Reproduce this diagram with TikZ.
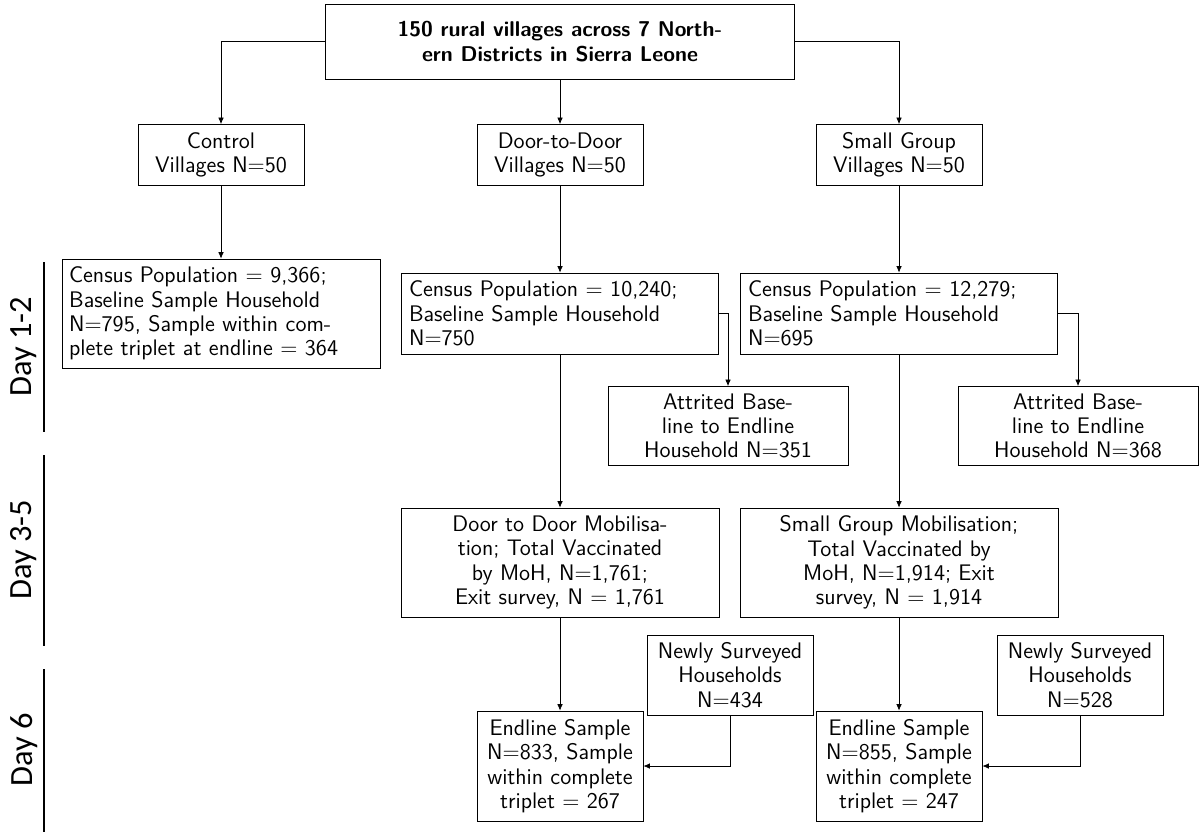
\documentclass[tikz,border=0pt]{standalone}
\usepackage{fontspec}
\newfontfamily\dayfont{Carlito}
\usetikzlibrary{arrows.meta}
\begin{document}
\begin{tikzpicture}[x=0.53333pt,y=-0.53333pt,
  box/.style={draw, rectangle, font=\sffamily\fontsize{12}{13}\selectfont, align=center, inner sep=2pt},
  wpx/.style={minimum width=#1*0.53333pt},
  hpx/.style={minimum height=#1*0.53333pt},
  arr/.style={-{Latex[length=3.5pt,width=3pt]}},
  dayline/.style={line width=1pt},
  daylabel/.style={font=\dayfont\LARGE, rotate=90}]
\useasboundingbox (0,0) rectangle (1204,832);

% top
\node[box, wpx=469, hpx=75, font=\sffamily\bfseries\fontsize{11.4}{13}\selectfont] (top) at (560,41.5)
  {150 rural villages across 7 North-\\ern Districts in Sierra Leone};

% level 2
\node[box, wpx=166, hpx=61] (ctrl) at (221,155) {Control\\Villages N=50};
\node[box, wpx=166, hpx=61] (door) at (560,155) {Door-to-Door\\Villages N=50};
\node[box, wpx=166, hpx=61] (small) at (899,155) {Small Group\\Villages N=50};

% census
\node[box, align=left, text width=162pt, inner xsep=3.8pt, hpx=109] (cc) at (221,313.5)
  {Census Population = 9,366;\\Baseline Sample Household\\\makebox[147pt][s]{N=795, Sample within com-}\\plete triplet at endline = 364};
\node[box, align=left, text width=161pt, inner xsep=4pt, hpx=81] (dc) at (560,313.5)
  {Census Population = 10,240;\\Baseline Sample Household\\N=750};
\node[box, align=left, text width=161pt, inner xsep=4pt, hpx=81] (sc) at (899,313.5)
  {Census Population = 12,279;\\Baseline Sample Household\\N=695};

% attrited
\node[box, wpx=240, hpx=79] (da) at (728,426) {Attrited Base-\\line to Endline\\Household N=351};
\node[box, wpx=240, hpx=79] (sa) at (1078,426) {Attrited Base-\\line to Endline\\Household N=368};

% mobilisation
\node[box, wpx=318, hpx=109] (dm) at (560,562.5)
  {Door to Door Mobilisa-\\tion; Total Vaccinated\\by MoH, N=1,761;\\Exit survey, N = 1,761};
\node[box, wpx=318, hpx=109] (sm) at (899,562.5)
  {Small Group Mobilisation;\\Total Vaccinated by\\MoH, N=1,914; Exit\\survey, N = 1,914};

% newly surveyed
\node[box, wpx=166, hpx=80] (dn) at (730,675) {Newly Surveyed\\Households\\N=434};
\node[box, wpx=166, hpx=80] (sn) at (1080,675) {Newly Surveyed\\Households\\N=528};

% endline
\node[box, wpx=166, hpx=110] (de) at (560,766) {Endline Sample\\N=833, Sample\\within complete\\triplet = 267};
\node[box, wpx=166, hpx=110] (se) at (899,766) {Endline Sample\\N=855, Sample\\within complete\\triplet = 247};

% connectors
\draw[arr] (top.west) -| (ctrl.north);
\draw[arr] (top.south -| door.north) -- (door.north);
\draw[arr] (top.east) -| (small.north);
\draw[arr] (ctrl.south) -- (ctrl.south |- cc.north);
\draw[arr] (door.south) -- (door.south |- dc.north);
\draw[arr] (small.south) -- (small.south |- sc.north);
\draw[arr] (dc.east) -| (da.north);
\draw[arr] (sc.east) -| (sa.north);
\draw[arr] (dc.south) -- (dc.south |- dm.north);
\draw[arr] (sc.south) -- (sc.south |- sm.north);
\draw[arr] (dm.south) -- (dm.south |- de.north);
\draw[arr] (sm.south) -- (sm.south |- se.north);
\draw[arr] (dn.south) |- (de.east);
\draw[arr] (sn.south) |- (se.east);

% day markers
\coordinate (d1a) at (44,262);
\coordinate (d1b) at (44,432);
\coordinate (d2a) at (44,455);
\coordinate (d2b) at (44,646);
\coordinate (d3a) at (44,669);
\coordinate (d3b) at (44,832);
\draw[dayline] (d1a) -- (d1b);
\draw[dayline] (d2a) -- (d2b);
\draw[dayline] (d3a) -- (d3b);
\node[daylabel] (day1) at (24,347) {Day 1-2};
\node[daylabel] (day2) at (24,550) {Day 3-5};
\node[daylabel] (day3) at (24,750) {Day 6};
\end{tikzpicture}
\end{document}
